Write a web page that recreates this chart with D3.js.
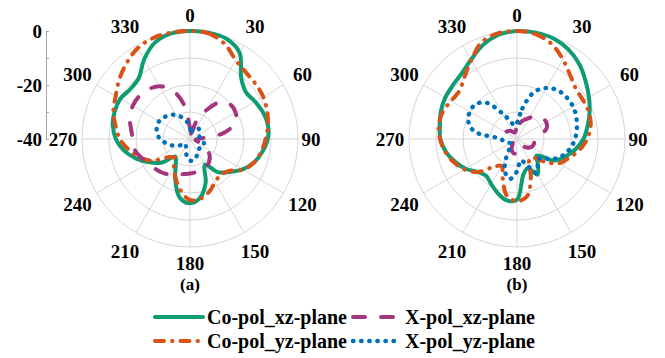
<!DOCTYPE html>
<html><head><meta charset="utf-8">
<script src="https://cdn.jsdelivr.net/npm/d3@7"></script>
<style>
body{margin:0;background:#fff}
svg{display:block}
text{font-family:"Liberation Serif","Times New Roman",serif;font-weight:bold;fill:#000}
</style>
</head><body>
<svg id="c" width="665" height="358"></svg>
<script>
// ---- data ----
const angles = [0,10,20,30,40,50,60,70,80,90,100,110,120,130,140,150,160,170,180,190,200,210,220,230,240,250,260,270,280,290,300,310,320,330,340,350];
const angleTicks = [0,30,60,90,120,150,180,210,240,270,300,330];
const radialTicks = [0,-10,-20,-30,-40];
const radialLabels = [0,-20,-40];
const seriesNames = ["Co-pol_xz-plane","Co-pol_yz-plane","X-pol_xz-plane","X-pol_yz-plane"];
const panelLabels = ["(a)","(b)"];

// panel (a)
const aCoXZ = [0,0,-0.5,-3.2,-10.5,-13,-12.2,-11.2,-10.7,-11.2,-12.8,-14.7,-17.5,-21,-24,-29,-23,-18,-16.2,-18,-24,-29.5,-31.5,-26.5,-22.7,-18.8,-15.2,-12.5,-11,-10.3,-10.2,-11.2,-10.5,-6,-2,-0.3];
const aCoYZ = [0,-0.3,-2.5,-6.2,-7.8,-8.3,-8.7,-9.6,-10.7,-12,-13.2,-14.7,-17.3,-21.5,-22.5,-21.5,-19.2,-17.6,-17.4,-20.5,-24.5,-28,-31,-29.5,-24,-20,-17,-14,-12,-9.8,-8.2,-5.8,-3.4,-1.2,-0.2,0];
const aXXZ = [-36,-38,-33,-27.5,-22,-20.3,-20.5,-22,-27.5,-37,-38,-36,-33,-30.5,-29,-28,-27.8,-27.5,-27.2,-26.8,-26,-24.8,-23.8,-23,-22.3,-20.5,-19,-18.8,-17.8,-16.2,-15.5,-15.4,-16,-17.4,-20.8,-27];
const aXYZ = [-36,-37,-36.5,-35.5,-35,-35.5,-36,-36,-36.5,-36,-35,-34.5,-34.3,-35,-35,-34.5,-33,-32,-32,-33.5,-35.5,-37,-37.5,-37,-35,-33,-31,-29,-27.5,-27,-26.8,-27.5,-28.3,-29.8,-31.5,-33.5];

// panel (b)
const bCoXZ = [0,0,-0.4,-1.8,-4,-6.8,-9.2,-11.4,-13.5,-15.4,-18,-21,-24,-30.5,-28,-24.8,-28.5,-26.5,-17.5,-17,-18.8,-20.8,-22.2,-21,-18,-15.5,-13.2,-11.6,-11,-10,-9.3,-9,-8.2,-6,-3,-0.8];
const bCoYZ = [0,-0.6,-2.5,-6,-9.3,-11.4,-11.6,-11.6,-12.3,-14,-16.5,-19.5,-22,-27,-31,-31,-25,-18.5,-17,-18.6,-24.5,-28.5,-26.5,-21,-17.5,-15,-13,-11.5,-10.6,-10.7,-11.8,-12.2,-9.8,-6.2,-1.8,-0.2];
const bXXZ = [-35.5,-34,-32.5,-31,-29,-27.8,-27.5,-28.3,-31,-33,-33.5,-33.5,-34,-35,-36.5,-37.5,-37.5,-36.5,-35,-34.5,-35,-36,-37.5,-38,-38,-37.5,-37,-36.5,-36,-35.5,-35,-35.5,-36,-37,-37.5,-37];
const bXYZ = [-34,-28.5,-21.5,-18.2,-16.5,-16,-16,-16.6,-17.5,-18.5,-20,-22,-25,-29,-28,-25.5,-30,-32,-28,-25,-27,-32,-36,-37,-37,-36,-35,-34,-24,-20.8,-19.8,-20,-22.5,-29,-33,-35];

const panels = [[aCoXZ,aCoYZ,aXXZ,aXYZ],[bCoXZ,bCoYZ,bXXZ,bXYZ]];

// ---- styles / layout ----
const styles = [
  {color:"#0E9C72", width:4,   dash:null,           cap:"round"},
  {color:"#D95319", width:4,   dash:"9 8 0.5 8",    cap:"round"},
  {color:"#A3367E", width:4,   dash:"12 16",        cap:"round"},
  {color:"#0072BD", width:4.4, dash:"0.5 7.6",      cap:"round"}
];
const centers = [[190,139],[517,139]];
const R = 108;
const r = d3.scaleLinear().domain([-40,0]).range([0,R]).clamp(true);
const svg = d3.select("#c");

const line = d3.lineRadial()
  .angle((d,i)=>angles[i]*Math.PI/180)
  .radius(d=>r(d))
  .curve(d3.curveCatmullRomClosed.alpha(0.5));

function labelRadius(a){
  if(a===0||a===180) return 124;
  if(a===90) return 121;
  if(a===270) return 127;
  return 130;
}

centers.forEach((c,pi)=>{
  const g = svg.append("g").attr("transform",`translate(${c[0]},${c[1]})`);
  // grid circles
  g.selectAll("circle.grid").data(radialTicks.filter(t=>t>-40)).join("circle")
    .attr("r",d=>r(d)).attr("fill","none").attr("stroke","#d6d6d6").attr("stroke-width",1);
  // spokes
  g.selectAll("line.spoke").data(angleTicks).join("line")
    .attr("x1",0).attr("y1",0)
    .attr("x2",d=>R*Math.sin(d*Math.PI/180)).attr("y2",d=>-R*Math.cos(d*Math.PI/180))
    .attr("stroke","#d6d6d6").attr("stroke-width",1);
  // angle labels
  g.selectAll("text.ang").data(angleTicks).join("text")
    .attr("x",d=>labelRadius(d)*Math.sin(d*Math.PI/180))
    .attr("y",d=>-labelRadius(d)*Math.cos(d*Math.PI/180))
    .attr("text-anchor","middle").attr("dominant-baseline","central")
    .style("font-size","19px").text(d=>d);
  // series
  panels[pi].forEach((vals,si)=>{
    const s = styles[si];
    g.append("path").datum(vals).attr("d",line)
      .attr("fill","none").attr("stroke",s.color).attr("stroke-width",s.width)
      .attr("stroke-linecap",s.cap).attr("stroke-linejoin","round")
      .attr("stroke-dasharray",s.dash);
  });
  // panel label
  svg.append("text").attr("x",c[0]).attr("y",290).attr("text-anchor","middle")
    .style("font-size","17px").text(panelLabels[pi]);
});

// radial axis (panel a)
const yR = d3.scaleLinear().domain([-40,0]).range([centers[0][1], centers[0][1]-R]);
const ax = svg.append("g").attr("transform","translate(46,0)")
  .call(d3.axisLeft(yR).tickValues(radialTicks).tickSize(-3).tickSizeOuter(0).tickPadding(4)
    .tickFormat(d=>radialLabels.includes(d)?String(d):""));
ax.select(".domain").attr("stroke","#a8a8a8");
ax.selectAll(".tick line").attr("stroke","#a8a8a8");
ax.selectAll("text").style("font-size","19px").attr("font-family",null).attr("fill","#000");

// legend
const legendPos = [[155,317],[155,341],[353,317],[353,341]];
seriesNames.forEach((n,i)=>{
  const s = styles[i], p = legendPos[i];
  svg.append("line").attr("x1",p[0]).attr("x2",p[0]+48).attr("y1",p[1]).attr("y2",p[1])
    .attr("stroke",s.color).attr("stroke-width",s.width).attr("stroke-linecap",s.cap)
    .attr("stroke-dasharray",s.dash);
  svg.append("text").attr("x",p[0]+52).attr("y",p[1]).attr("dominant-baseline","central")
    .style("font-size","20px").text(n);
});
</script>
</body></html>
